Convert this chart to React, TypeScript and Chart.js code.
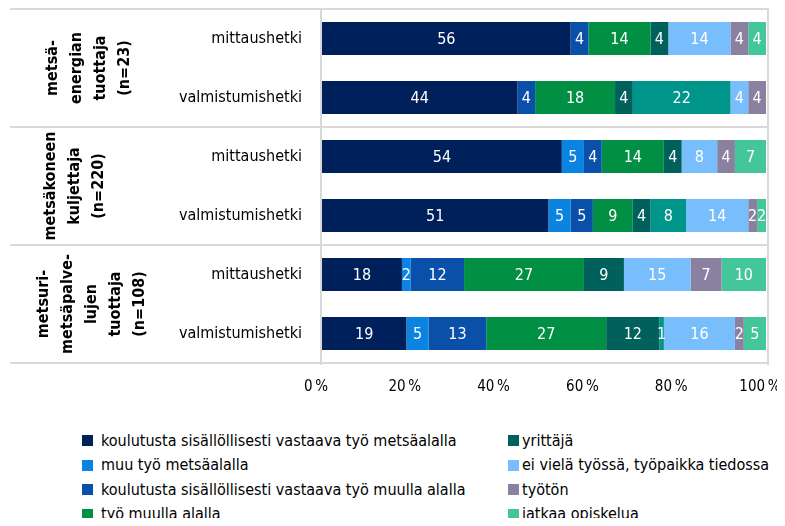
import React, { useEffect, useRef } from "react";
import { Chart, registerables } from "chart.js";

Chart.register(...registerables);

const FONT = "'Liberation Sans Narrow', 'DejaVu Sans Condensed', 'Roboto Condensed', sans-serif";

const categories = [
  "mittaushetki",
  "valmistumishetki",
  "mittaushetki",
  "valmistumishetki",
  "mittaushetki",
  "valmistumishetki",
];

const groupLabels = [
  ["metsä-", "energian", "tuottaja", "(n=23)"],
  ["metsäkoneen", "kuljettaja", "(n=220)"],
  ["metsuri-", "metsäpalve-", "lujen", "tuottaja", "(n=108)"],
];

const xTicks = [0, 20, 40, 60, 80, 100];

const seriesNames = [
  "koulutusta sisällöllisesti vastaava työ metsäalalla",
  "muu työ metsäalalla",
  "koulutusta sisällöllisesti vastaava työ muulla alalla",
  "työ muulla alalla",
  "yrittäjä",
  "muu tilanne",
  "ei vielä työssä, työpaikka tiedossa",
  "työtön",
  "jatkaa opiskelua",
];

const koulutusMetsa = [56, 44, 54, 51, 18, 19];
const muuMetsa = [0, 0, 5, 5, 2, 5];
const koulutusMuu = [4, 4, 4, 5, 12, 13];
const tyoMuulla = [14, 18, 14, 9, 27, 27];
const yrittaja = [4, 4, 4, 4, 9, 12];
const muuTilanne = [0, 22, 0, 8, 0, 1];
const eiViela = [14, 4, 8, 14, 15, 16];
const tyoton = [4, 4, 4, 2, 7, 2];
const jatkaa = [4, 0, 7, 2, 10, 5];

const seriesValues = [
  koulutusMetsa,
  muuMetsa,
  koulutusMuu,
  tyoMuulla,
  yrittaja,
  muuTilanne,
  eiViela,
  tyoton,
  jatkaa,
];

const seriesColors = [
  "#00205b",
  "#0a84e0",
  "#0a4fa8",
  "#008f43",
  "#00605c",
  "#00958a",
  "#78bdfc",
  "#8a80a0",
  "#43c79a",
];

// legend columns (series indices)
const legendColumns = [
  [0, 1, 2, 3],
  [4, 6, 7, 8],
];

const LINE = "#d9d9d9";

const valueLabels = {
  id: "valueLabels",
  afterDatasetsDraw(chart: any) {
    const ctx = chart.ctx;
    ctx.save();
    ctx.font = `16px ${FONT}`;
    ctx.fillStyle = "#ffffff";
    ctx.textAlign = "center";
    ctx.textBaseline = "middle";
    chart.data.datasets.forEach((ds: any, di: number) => {
      const meta = chart.getDatasetMeta(di);
      meta.data.forEach((el: any, i: number) => {
        const v = ds.data[i];
        if (!v) return;
        const p = el.getProps(["x", "y", "base"], true);
        ctx.fillText(String(v), (p.x + p.base) / 2, p.y + 1);
      });
    });
    ctx.restore();
  },
};

const frameLines = {
  id: "frameLines",
  afterDraw(chart: any) {
    const ctx = chart.ctx;
    const { left, right, top, bottom } = chart.chartArea;
    const n = chart.data.labels.length;
    const band = (bottom - top) / n;
    ctx.save();
    ctx.strokeStyle = LINE;
    ctx.lineWidth = 2;
    ctx.beginPath();
    for (let i = 0; i <= n; i += 2) {
      const y = Math.round(top + i * band);
      ctx.moveTo(2, y);
      ctx.lineTo(right + 3, y);
    }
    ctx.moveTo(left - 1, top);
    ctx.lineTo(left - 1, bottom + 2);
    ctx.moveTo(right + 2, top);
    ctx.lineTo(right + 2, bottom + 2);
    ctx.stroke();
    ctx.restore();
  },
};

const groupTitles = {
  id: "groupTitles",
  afterDraw(chart: any) {
    const ctx = chart.ctx;
    const { top, bottom } = chart.chartArea;
    const n = chart.data.labels.length;
    const band = (bottom - top) / n;
    const centersX = [81, 67, 84];
    const lh = 24;
    ctx.save();
    ctx.font = `bold 16px ${FONT}`;
    ctx.fillStyle = "#000000";
    ctx.textAlign = "center";
    ctx.textBaseline = "middle";
    groupLabels.forEach((lines, g) => {
      const cy = top + (g * 2 + 1) * band;
      ctx.save();
      ctx.translate(centersX[g], cy);
      ctx.rotate(-Math.PI / 2);
      lines.forEach((t, i) => {
        ctx.fillText(t, 0, (i - (lines.length - 1) / 2) * lh);
      });
      ctx.restore();
    });
    ctx.restore();
  },
};

export default function App() {
  const ref = useRef<HTMLCanvasElement | null>(null);

  useEffect(() => {
    if (!ref.current) return;
    const chart = new Chart(ref.current, {
      type: "bar",
      data: {
        labels: categories,
        datasets: seriesValues.map((vals, i) => ({
          label: seriesNames[i],
          data: vals,
          backgroundColor: seriesColors[i],
          borderWidth: 0,
          barPercentage: 0.56,
          categoryPercentage: 1,
        })),
      },
      options: {
        indexAxis: "y",
        responsive: false,
        animation: false,
        layout: { padding: { top: 1, right: 19, left: 0, bottom: 0 } },
        plugins: {
          legend: { display: false },
          tooltip: { enabled: false },
        },
        scales: {
          y: {
            stacked: true,
            grid: { display: false, drawTicks: false },
            border: { display: false },
            ticks: {
              font: { family: FONT, size: 16 },
              color: "#000000",
              padding: 20,
            },
            afterFit: (s: any) => {
              s.width = 314;
              s.paddingTop = 0;
              s.paddingBottom = 0;
            },
          },
          x: {
            stacked: true,
            min: 0,
            max: 100,
            grid: { display: false, drawTicks: false },
            border: { display: false },
            afterBuildTicks: (s: any) => {
              s.ticks = xTicks.map((v) => ({ value: v }));
            },
            ticks: {
              callback: (v: any) => `${v}\u202f%`,
              font: { family: FONT, size: 15 },
              color: "#000000",
              padding: 15,
              labelOffset: -6,
              maxRotation: 0,
              autoSkip: false,
            },
            afterFit: (s: any) => {
              s.height = 45;
              s.paddingLeft = 0;
              s.paddingRight = 0;
            },
          },
        },
      } as any,
      plugins: [valueLabels, frameLines, groupTitles],
    });
    return () => chart.destroy();
  }, []);

  const rowCenters = [432.5, 457, 481.5, 506];
  const colSquare = [74, 500];
  const colText = [93, 514];

  return (
    <div style={{ position: "relative", width: 769, height: 510 }}>
      <canvas ref={ref} width={777} height={400} style={{ display: "block" }} />
      {legendColumns.map((col, ci) =>
        col.map((si, ri) => (
          <React.Fragment key={`${ci}-${ri}`}>
            <div
              style={{
                position: "absolute",
                left: colSquare[ci],
                top: rowCenters[ri] - 5.5,
                width: 11,
                height: 11,
                background: seriesColors[si],
              }}
            />
            <div
              style={{
                position: "absolute",
                left: colText[ci],
                top: rowCenters[ri] - 11,
                height: 22,
                lineHeight: "22px",
                fontFamily: FONT,
                fontSize: 16,
                color: "#000000",
                whiteSpace: "nowrap",
              }}
            >
              {seriesNames[si]}
            </div>
          </React.Fragment>
        ))
      )}
    </div>
  );
}
